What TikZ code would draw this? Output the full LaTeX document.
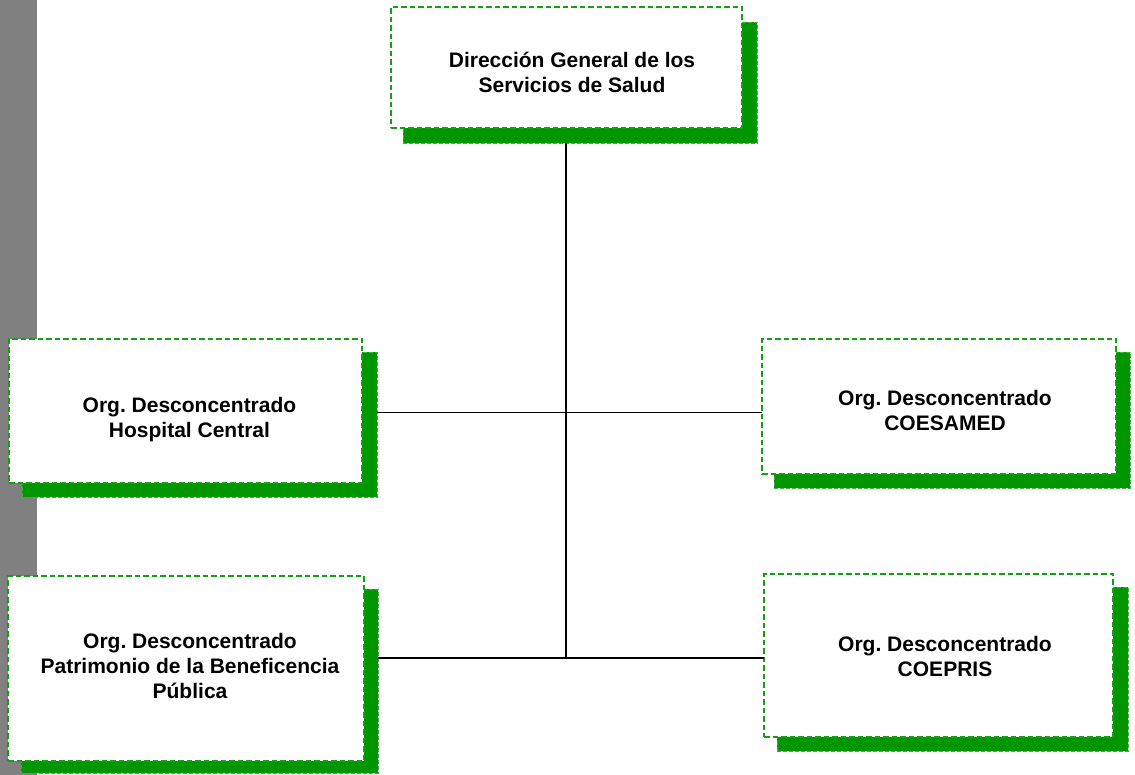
\documentclass[tikz,border=0pt]{standalone}
\usepackage{fontspec}
\setmainfont{Liberation Sans}
\frenchspacing
\definecolor{sgreen}{RGB}{0,150,0}
\definecolor{bgreen}{RGB}{20,160,20}
\definecolor{bargray}{RGB}{128,128,128}
\begin{document}
\begin{tikzpicture}[x=1pt,y=-1pt,
  shadowbox/.style={fill=sgreen,draw=sgreen!75!white,dash pattern=on 4pt off 2pt,line width=0.8pt,inner sep=0pt,outer sep=0pt},
  orgbox/.style={fill=white,draw=bgreen,dash pattern=on 5.5pt off 3pt,line width=1.5pt,inner sep=0pt,outer sep=0pt},
  orgtext/.style={anchor=north,align=center,inner sep=0pt,font=\fontsize{21}{25}\selectfont\bfseries},
  conn/.style={draw=black,line width=1.3pt}]
\useasboundingbox (0,0) rectangle (1135,775);
\fill[bargray] (0,0) rectangle (37,775);
% shadows
\node[shadowbox,minimum width=354pt,minimum height=121pt] (s0) at (580,82.5) {};
\node[shadowbox,minimum width=355pt,minimum height=145pt] (s1) at (199.5,424.5) {};
\node[shadowbox,minimum width=357pt,minimum height=184pt] (s2) at (199.5,681) {};
\node[shadowbox,minimum width=356pt,minimum height=136pt] (s3) at (952,420) {};
\node[shadowbox,minimum width=351pt,minimum height=164pt] (s4) at (952.5,669) {};
% boxes
\node[orgbox,minimum width=351pt,minimum height=121pt] (b0) at (566.5,67.5) {};
\node[orgbox,minimum width=353pt,minimum height=144pt] (b1) at (185.5,411) {};
\node[orgbox,minimum width=356pt,minimum height=185pt] (b2) at (186,668.5) {};
\node[orgbox,minimum width=354pt,minimum height=135pt] (b3) at (939,406.5) {};
\node[orgbox,minimum width=349pt,minimum height=163pt] (b4) at (938.5,655.5) {};
% texts
\node[orgtext] (t0) at (572,52) {Dirección General de los\\Servicios de Salud};
\node[orgtext] (t1) at (189.5,397) {Org. Desconcentrado\\Hospital Central};
\node[orgtext] (t2) at (190,633) {Org. Desconcentrado\\Patrimonio de la Beneficencia\\Pública};
\node[orgtext] (t3) at (945,390) {Org. Desconcentrado\\COESAMED};
\node[orgtext] (t4) at (945,636) {Org. Desconcentrado\\COEPRIS};
% connectors
\coordinate (j1) at (566,412.5);
\coordinate (j2) at (566,658);
\draw[conn] (j1 |- s0.south) -- (j2);
\draw[conn] (s1.east |- j1) -- (b3.west |- j1);
\draw[conn] (s2.east |- j2) -- (b4.west |- j2);
\end{tikzpicture}
\end{document}
